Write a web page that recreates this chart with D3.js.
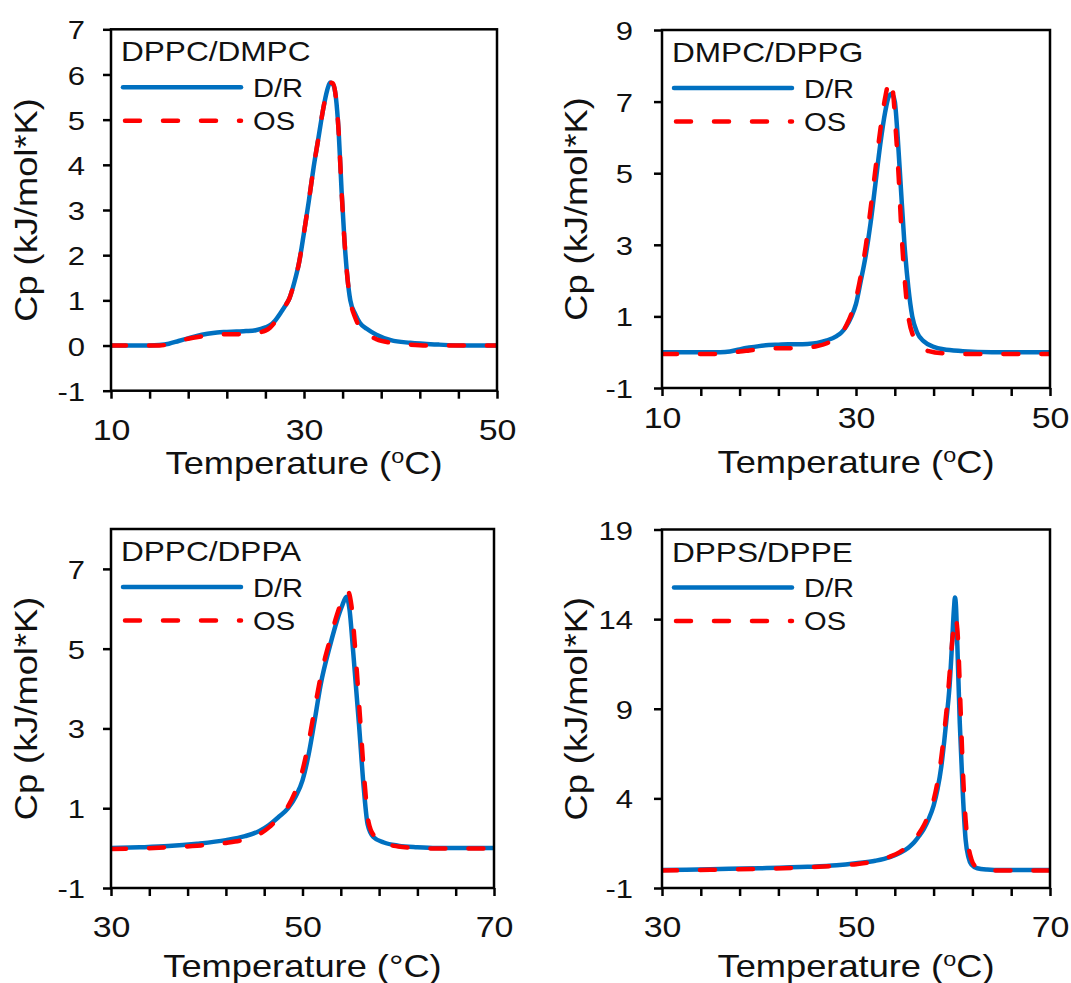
<!DOCTYPE html>
<html>
<head>
<meta charset="utf-8">
<script src="https://cdn.jsdelivr.net/npm/d3@7/dist/d3.min.js"></script>
<style>
  html, body { margin: 0; padding: 0; background: #fff; }
  svg { display: block; font-family: "Liberation Sans", Arial, sans-serif; }
</style>
</head>
<body>
<svg id="chart" width="1071" height="983"></svg>
<script>
// ---------------- DATA ----------------
const seriesNames = ["D/R", "OS"];
const yAxisTitle = "Cp (kJ/mol*K)";
const xAxisTitleMain = "Temperature (";
const xAxisTitleEnd = "C)";

// Panel 1: DPPC/DMPC
const p1Title = "DPPC/DMPC";
const p1XDomain = [10, 50];
const p1YDomain = [-1, 7];
const p1XTicks = [10, 14, 18, 22, 26, 30, 34, 38, 42, 46, 50];
const p1XLabels = [10, 30, 50];
const p1YTicks = [-1, 0, 1, 2, 3, 4, 5, 6, 7];
const p1T_DR  = [10, 12, 14, 15, 16, 17, 18, 19, 20, 21, 22, 23, 24, 25, 26, 26.5, 27, 27.5, 28, 28.5, 29, 29.5, 30, 30.5, 31, 31.5, 32, 32.4, 32.7, 33, 33.3, 33.6, 33.9, 34.2, 34.5, 34.8, 35.3, 35.8, 36.5, 37.5, 39, 41, 44, 47, 50];
const p1Cp_DR = [0, 0, 0, 0.01, 0.04, 0.1, 0.16, 0.22, 0.26, 0.29, 0.3, 0.31, 0.32, 0.34, 0.4, 0.45, 0.55, 0.7, 0.86, 1.05, 1.4, 1.85, 2.5, 3.2, 3.95, 4.6, 5.25, 5.65, 5.82, 5.78, 5.5, 4.7, 3.4, 2.3, 1.5, 1.0, 0.7, 0.5, 0.37, 0.24, 0.12, 0.06, 0.02, 0, 0];
const p1T_OS  = [10, 12, 14, 15, 16, 17, 18, 19, 20, 21, 22, 23, 24, 25, 26, 26.5, 27, 27.5, 28, 28.5, 29, 29.5, 30, 30.5, 31, 31.5, 32, 32.4, 32.7, 33, 33.3, 33.6, 33.9, 34.2, 34.5, 34.8, 35.3, 35.8, 36.5, 37.5, 39, 41, 43, 47, 50];
const p1Cp_OS = [0, 0, 0, 0, 0.03, 0.1, 0.15, 0.19, 0.22, 0.24, 0.25, 0.25, 0.26, 0.28, 0.33, 0.4, 0.52, 0.68, 0.86, 1.05, 1.4, 1.85, 2.5, 3.2, 3.95, 4.6, 5.25, 5.65, 5.82, 5.8, 5.5, 4.7, 3.4, 2.3, 1.5, 1.0, 0.62, 0.4, 0.26, 0.14, 0.06, 0.02, 0, 0, 0];

// Panel 2: DMPC/DPPG
const p2Title = "DMPC/DPPG";
const p2XDomain = [10, 50];
const p2YDomain = [-1, 9];
const p2XTicks = [10, 14, 18, 22, 26, 30, 34, 38, 42, 46, 50];
const p2XLabels = [10, 30, 50];
const p2YTicks = [-1, 1, 3, 5, 7, 9];
const p2T_DR  = [10, 14, 16, 17, 18, 19, 20, 21, 22, 23, 24, 25, 26, 27, 28, 28.5, 29, 29.5, 30, 30.5, 31, 31.5, 32, 32.5, 33, 33.4, 33.7, 34, 34.3, 34.6, 35, 35.4, 35.8, 36.3, 37, 38, 39, 41, 44, 50];
const p2Cp_DR = [0, 0, 0, 0.02, 0.08, 0.13, 0.17, 0.2, 0.21, 0.22, 0.22, 0.23, 0.26, 0.33, 0.45, 0.55, 0.72, 0.98, 1.35, 2.0, 2.7, 3.6, 4.7, 5.8, 6.7, 7.15, 7.22, 7.0, 6.0, 4.7, 3.0, 1.8, 1.0, 0.55, 0.3, 0.15, 0.08, 0.03, 0, 0];
const p2T_OS  = [10, 16, 17, 18, 19, 20, 21, 22, 23, 24, 25, 26, 27, 28, 28.5, 29, 29.5, 30, 30.5, 31, 31.5, 32, 32.5, 33, 33.5, 33.8, 34.1, 34.4, 34.7, 35, 35.4, 35.9, 36.5, 37.5, 39, 42, 50];
const p2Cp_OS = [-0.05, -0.05, -0.03, 0.02, 0.05, 0.08, 0.1, 0.11, 0.11, 0.12, 0.13, 0.17, 0.25, 0.4, 0.52, 0.75, 1.05, 1.5, 2.15, 2.95, 4.0, 5.1, 6.2, 7.1, 7.6, 7.3, 6.2, 4.9, 3.3, 2.1, 1.0, 0.45, 0.2, 0.03, -0.03, -0.05, -0.05];

// Panel 3: DPPC/DPPA
const p3Title = "DPPC/DPPA";
const p3XDomain = [30, 70];
const p3YDomain = [-1, 8];
const p3XTicks = [30, 34, 38, 42, 46, 50, 54, 58, 62, 66, 70];
const p3XLabels = [30, 50, 70];
const p3YTicks = [-1, 1, 3, 5, 7];
const p3T_DR  = [30, 33, 36, 39, 42, 44, 45.5, 46.5, 47.5, 48.5, 49.3, 50, 50.6, 51.2, 51.9, 52.9, 53.6, 54.1, 54.6, 54.9, 55.3, 55.9, 56.4, 56.8, 57.4, 58.5, 60, 62, 64, 70];
const p3Cp_DR = [0, 0.02, 0.05, 0.11, 0.2, 0.3, 0.43, 0.58, 0.78, 1.0, 1.3, 1.7, 2.3, 3.1, 4.1, 5.1, 5.7, 6.05, 6.3, 6.0, 4.9, 3.1, 1.5, 0.6, 0.28, 0.14, 0.06, 0.02, 0, 0];
const p3T_OS  = [30, 33, 36, 39, 42, 44, 45.5, 46.5, 47.5, 48.5, 49.3, 50, 50.6, 51.2, 51.9, 52.9, 53.6, 54.2, 54.7, 55.1, 55.5, 56, 56.5, 56.9, 57.5, 58.5, 60, 62, 64, 70];
const p3Cp_OS = [-0.02, -0.01, 0.02, 0.06, 0.13, 0.22, 0.35, 0.52, 0.76, 1.05, 1.45, 1.95, 2.6, 3.4, 4.3, 5.25, 5.85, 6.25, 6.45, 6.1, 5.0, 3.3, 1.6, 0.65, 0.3, 0.13, 0.04, 0, -0.01, -0.01];

// Panel 4: DPPS/DPPE
const p4Title = "DPPS/DPPE";
const p4XDomain = [30, 70];
const p4YDomain = [-1, 19];
const p4XTicks = [30, 34, 38, 42, 46, 50, 54, 58, 62, 66, 70];
const p4XLabels = [30, 50, 70];
const p4YTicks = [-1, 4, 9, 14, 19];
const p4T_DR  = [30, 35, 40, 45, 48, 50, 52, 53.5, 54.5, 55.4, 56, 56.5, 57, 57.5, 58, 58.4, 58.8, 59.1, 59.4, 59.65, 59.9, 60.1, 60.2, 60.3, 60.45, 60.7, 61.0, 61.3, 61.6, 61.9, 62.5, 63.5, 65, 70];
const p4Cp_DR = [0, 0.05, 0.1, 0.18, 0.27, 0.38, 0.52, 0.72, 0.95, 1.25, 1.55, 1.9, 2.3, 2.85, 3.6, 4.5, 5.8, 7.2, 8.8, 10.3, 12.6, 14.6, 15.2, 14.8, 12.5, 8.2, 4.4, 1.7, 0.7, 0.3, 0.1, 0.03, 0, 0];
const p4T_OS  = [30, 35, 40, 45, 48, 50, 52, 53.5, 54.5, 55.4, 56, 56.5, 57, 57.5, 58, 58.4, 58.8, 59.1, 59.4, 59.7, 60, 60.25, 60.5, 60.75, 61.0, 61.3, 61.6, 61.9, 62.3, 63, 65, 70];
const p4Cp_OS = [-0.03, 0.02, 0.07, 0.15, 0.24, 0.33, 0.5, 0.75, 1.0, 1.35, 1.7, 2.05, 2.5, 3.1, 3.9, 4.9, 6.3, 7.7, 9.3, 11.3, 13.2, 14.1, 13.0, 9.5, 5.8, 2.8, 1.3, 0.6, 0.2, 0, -0.03, -0.03];

// ---------------- LAYOUT / STYLE ----------------
const BLUE = "#0070C0";
const RED = "#FF0000";
const TXT = "#111";
const SX = 1.17; // horizontal glyph stretch

const panels = [
  { title: p1Title, xd: p1XDomain, yd: p1YDomain, xt: p1XTicks, xl: p1XLabels, yt: p1YTicks,
    dr: d3.zip(p1T_DR, p1Cp_DR), os: d3.zip(p1T_OS, p1Cp_OS), deg: "o",
    left: 111, right: 497, top: 29.3, bottom: 390.7, xLabBase: 49, xTitleBase: 83, yLabGap: 26, yTitleOff: 74 },
  { title: p2Title, xd: p2XDomain, yd: p2YDomain, xt: p2XTicks, xl: p2XLabels, yt: p2YTicks,
    dr: d3.zip(p2T_DR, p2Cp_DR), os: d3.zip(p2T_OS, p2Cp_OS), deg: "o",
    left: 662, right: 1050, top: 30, bottom: 388, xLabBase: 40, xTitleBase: 85, yLabGap: 29, yTitleOff: 75 },
  { title: p3Title, xd: p3XDomain, yd: p3YDomain, xt: p3XTicks, xl: p3XLabels, yt: p3YTicks,
    dr: d3.zip(p3T_DR, p3Cp_DR), os: d3.zip(p3T_OS, p3Cp_OS), deg: "°",
    left: 111, right: 494, top: 529, bottom: 888, xLabBase: 49, xTitleBase: 89, yLabGap: 26, yTitleOff: 74 },
  { title: p4Title, xd: p4XDomain, yd: p4YDomain, xt: p4XTicks, xl: p4XLabels, yt: p4YTicks,
    dr: d3.zip(p4T_DR, p4Cp_DR), os: d3.zip(p4T_OS, p4Cp_OS), deg: "o",
    left: 662, right: 1050, top: 529.5, bottom: 888, xLabBase: 49, xTitleBase: 89, yLabGap: 29, yTitleOff: 75 }
];

const svg = d3.select("#chart");

panels.forEach((p, i) => {
  const g = svg.append("g");
  const x = d3.scaleLinear().domain(p.xd).range([p.left, p.right]);
  const y = d3.scaleLinear().domain(p.yd).range([p.bottom, p.top]);

  const clipId = "clip" + i;
  svg.append("clipPath").attr("id", clipId)
    .append("rect").attr("x", p.left).attr("y", p.top)
    .attr("width", p.right - p.left).attr("height", p.bottom - p.top);

  const line = d3.line().x(d => x(d[0])).y(d => y(d[1])).curve(d3.curveMonotoneX);

  const plot = g.append("g").attr("clip-path", `url(#${clipId})`);
  plot.append("path").datum(p.dr).attr("d", line)
    .attr("fill", "none").attr("stroke", BLUE).attr("stroke-width", 4.5)
    .attr("stroke-linejoin", "round");
  plot.append("path").datum(p.os).attr("d", line)
    .attr("fill", "none").attr("stroke", RED).attr("stroke-width", 4.5)
    .attr("stroke-dasharray", "15 23").attr("stroke-linecap", "round");

  // axes
  const xAxis = d3.axisBottom(x).tickValues(p.xt).tickSize(8).tickSizeOuter(0)
    .tickFormat(d => p.xl.includes(d) ? String(d) : "");
  const gx = g.append("g").attr("transform", `translate(0,${p.bottom})`).call(xAxis);
  gx.select(".domain").remove();
  gx.selectAll(".tick line").attr("stroke", "#000").attr("stroke-width", 2.5);
  gx.selectAll(".tick text").attr("y", p.xLabBase).attr("dy", 0)
    .attr("font-size", 29).attr("fill", TXT).attr("font-family", null)
    .attr("transform", `scale(${SX},1)`);

  const yAxis = d3.axisLeft(y).tickValues(p.yt).tickSize(8).tickSizeOuter(0)
    .tickFormat(d => String(d));
  const gy = g.append("g").attr("transform", `translate(${p.left},0)`).call(yAxis);
  gy.select(".domain").remove();
  gy.selectAll(".tick line").attr("stroke", "#000").attr("stroke-width", 2.5);
  gy.selectAll(".tick text").attr("x", -p.yLabGap / SX).attr("dy", "0.36em")
    .attr("font-size", 26.5).attr("fill", TXT).attr("font-family", null)
    .attr("transform", `scale(${SX},1)`);

  // frame
  g.append("rect").attr("x", p.left).attr("y", p.top)
    .attr("width", p.right - p.left).attr("height", p.bottom - p.top)
    .attr("fill", "none").attr("stroke", "#000").attr("stroke-width", 2.5);

  // axis titles
  const cx = (p.left + p.right) / 2;
  const xt = g.append("text")
    .attr("transform", `translate(${cx},${p.bottom + p.xTitleBase}) scale(${SX},1)`)
    .attr("text-anchor", "middle").attr("font-size", 31).attr("fill", TXT);
  xt.append("tspan").text(xAxisTitleMain);
  if (p.deg === "o") {
    xt.append("tspan").attr("dy", -11).attr("font-size", 20).text("o");
    xt.append("tspan").attr("dy", 11).text(xAxisTitleEnd);
  } else {
    xt.append("tspan").text("°" + xAxisTitleEnd);
  }

  const cy = (p.top + p.bottom) / 2;
  g.append("text")
    .attr("transform", `translate(${p.left - p.yTitleOff},${cy}) rotate(-90) scale(${SX},1)`)
    .attr("text-anchor", "middle").attr("font-size", 31).attr("fill", TXT)
    .text(yAxisTitle);

  // panel title
  g.append("text")
    .attr("transform", `translate(${p.left + 10},${p.top + 32}) scale(${SX},1)`)
    .attr("font-size", 27).attr("fill", TXT).text(p.title);

  // legend
  const rows = [p.top + 58, p.top + 91.4];
  const lx0 = p.left + 12, lx1 = p.left + 130;
  const lg = g.append("g");
  lg.append("line").attr("x1", lx0).attr("x2", lx1).attr("y1", rows[0]).attr("y2", rows[0])
    .attr("stroke", BLUE).attr("stroke-width", 4.5).attr("stroke-linecap", "round");
  lg.append("line").attr("x1", lx0 + 2).attr("x2", lx1).attr("y1", rows[1]).attr("y2", rows[1])
    .attr("stroke", RED).attr("stroke-width", 4.5)
    .attr("stroke-dasharray", "15 23").attr("stroke-linecap", "round");
  seriesNames.forEach((name, k) => {
    lg.append("text")
      .attr("transform", `translate(${p.left + 142},${rows[k] + 9.5}) scale(1.12,1)`)
      .attr("font-size", 26).attr("fill", TXT).text(name);
  });
});
</script>
</body>
</html>
